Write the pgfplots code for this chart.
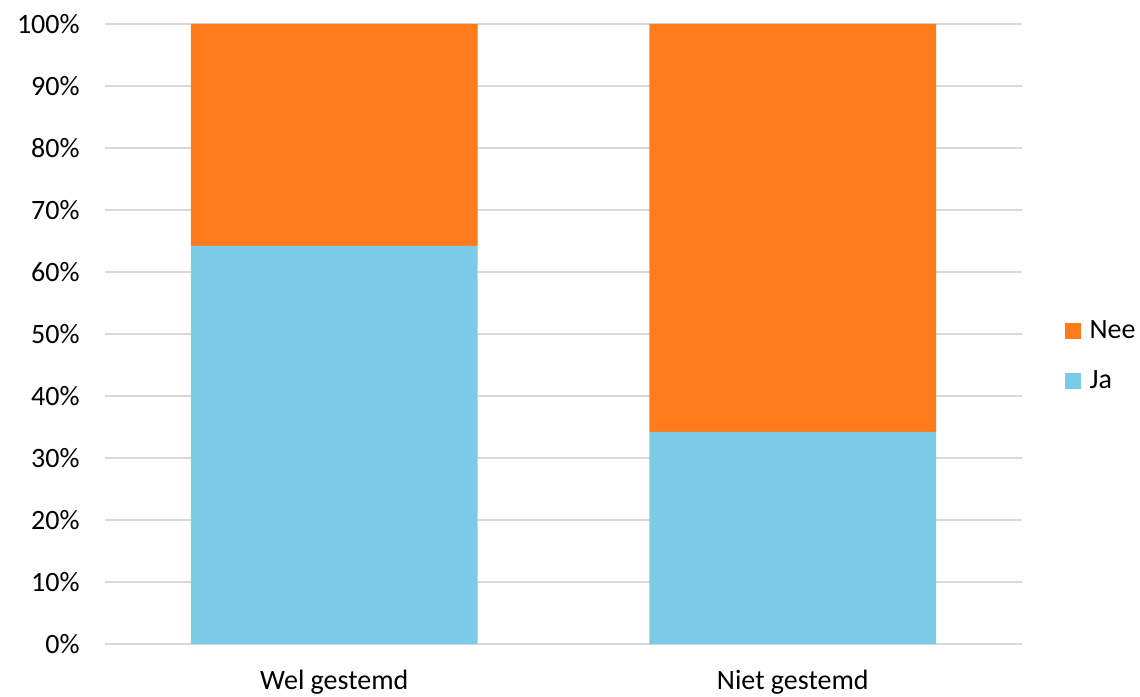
\documentclass[border=0pt]{standalone}
\usepackage{fontspec}
\setmainfont{Carlito}
\usepackage{pgfplots}
\pgfplotsset{compat=1.18}
\definecolor{jablue}{HTML}{7CCBE6}
\definecolor{neeorange}{HTML}{FF7B1C}
\definecolor{gridgray}{HTML}{D9D9D9}
\begin{document}
\begin{tikzpicture}
\begin{axis}[
  at={(52.5pt,26pt)}, anchor=south west,
  scale only axis, width=458.5pt, height=310pt,
  ybar stacked, bar width=0.625,
  xmin=-0.5, xmax=1.5, ymin=0, ymax=100,
  xtick={0,1}, xticklabels={Wel gestemd,Niet gestemd},
  ytick={0,10,20,30,40,50,60,70,80,90,100},
  yticklabels={0\%,10\%,20\%,30\%,40\%,50\%,60\%,70\%,80\%,90\%,100\%},
  major tick length=0pt,
  axis line style={draw=none},
  ymajorgrids, major grid style={color=gridgray, line width=0.75pt},
  tick label style={font=\fontsize{14}{16.8}\selectfont, text=black},
  yticklabel style={inner sep=0pt, xshift=-12.5pt},
  xticklabel style={inner sep=0pt, yshift=-13pt},
  reverse legend,
  legend style={at={(1.046,0.4645)}, anchor=west, draw=none, fill=none, inner sep=0pt,
    font=\fontsize{14}{16.8}\selectfont, row sep=12pt,
    nodes={inner sep=0pt, text height=10pt, text depth=3pt}},
  legend cell align=left,
  legend image code/.code={\fill[#1] (0pt,-4pt) rectangle (8pt,4pt);},
  /pgfplots/legend image post style={xshift=0pt},
]
\addplot[fill=jablue, draw=none] coordinates {(0,64.2) (1,34.2)};
\addlegendentry{\hspace{4.5pt}Ja}
\addplot[fill=neeorange, draw=none] coordinates {(0,35.8) (1,65.8)};
\addlegendentry{\hspace{4.5pt}Nee}
\end{axis}
\pgfresetboundingbox
\useasboundingbox (0,0) rectangle (570pt,348pt);
\end{tikzpicture}
\end{document}
